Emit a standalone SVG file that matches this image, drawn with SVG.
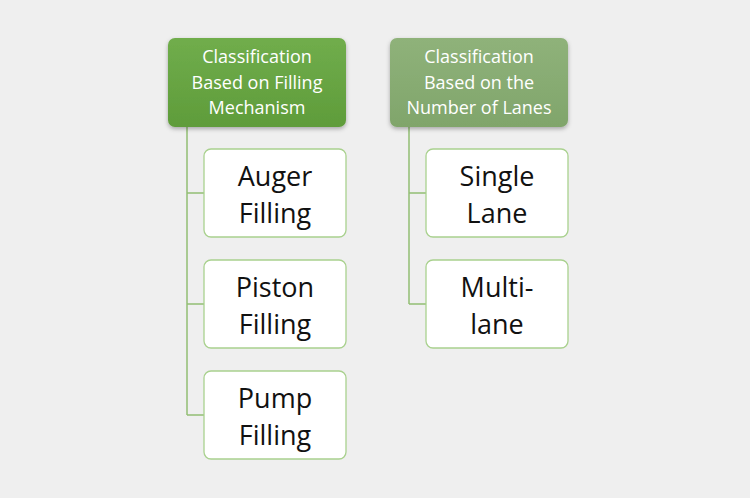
<svg xmlns="http://www.w3.org/2000/svg" width="750" height="498" viewBox="0 0 750 498">
<defs>
<linearGradient id="g1" x1="0" y1="0" x2="0" y2="1"><stop offset="0" stop-color="#70ad4c"/><stop offset="1" stop-color="#5f9c3a"/></linearGradient>
<linearGradient id="g2" x1="0" y1="0" x2="0" y2="1"><stop offset="0" stop-color="#8fb27a"/><stop offset="1" stop-color="#80a56b"/></linearGradient>
<filter id="sh" x="-10%" y="-10%" width="120%" height="130%"><feDropShadow dx="0" dy="2" stdDeviation="2" flood-color="#000" flood-opacity="0.3"/></filter>
<style>
.hd text{font-family:"Open Sans","Liberation Sans",sans-serif;font-size:18px;fill:#fff;text-anchor:middle}
.ch rect{fill:#fff;stroke:#a9d18e;stroke-width:1.3}
.ch text{font-family:"Open Sans","Liberation Sans",sans-serif;font-size:27px;fill:#111;text-anchor:middle}
.con{stroke:#93bf74;stroke-width:1.5;fill:none}
</style>
</defs>
<rect width="750" height="498" fill="#efefef"/>
<g id="connectors" class="con">
<path d="M187,127 V415 M187,193 H204 M187,304 H204 M187,415 H204"/>
<path d="M409,127 V304 M409,193 H426 M409,304 H426"/>
</g>
<g id="h1" class="hd"><rect x="168" y="38" width="178" height="89" rx="7" fill="url(#g1)" filter="url(#sh)"/>
<text x="257" y="63">Classification</text><text x="257" y="89">Based on Filling</text><text x="257" y="114">Mechanism</text></g>
<g id="h2" class="hd"><rect x="390" y="38" width="178" height="89" rx="7" fill="url(#g2)" filter="url(#sh)"/>
<text x="479" y="63">Classification</text><text x="479" y="89">Based on the</text><text x="479" y="114">Number of Lanes</text></g>
<g id="c1" class="ch"><rect x="204" y="149" width="142" height="88" rx="7"/><text x="275" y="186">Auger</text><text x="275" y="223">Filling</text></g>
<g id="c2" class="ch"><rect x="204" y="260" width="142" height="88" rx="7"/><text x="275" y="297">Piston</text><text x="275" y="334">Filling</text></g>
<g id="c3" class="ch"><rect x="204" y="371" width="142" height="88" rx="7"/><text x="275" y="408">Pump</text><text x="275" y="445">Filling</text></g>
<g id="c4" class="ch"><rect x="426" y="149" width="142" height="88" rx="7"/><text x="497" y="186">Single</text><text x="497" y="223">Lane</text></g>
<g id="c5" class="ch"><rect x="426" y="260" width="142" height="88" rx="7"/><text x="497" y="297">Multi-</text><text x="497" y="334">lane</text></g>
</svg>
